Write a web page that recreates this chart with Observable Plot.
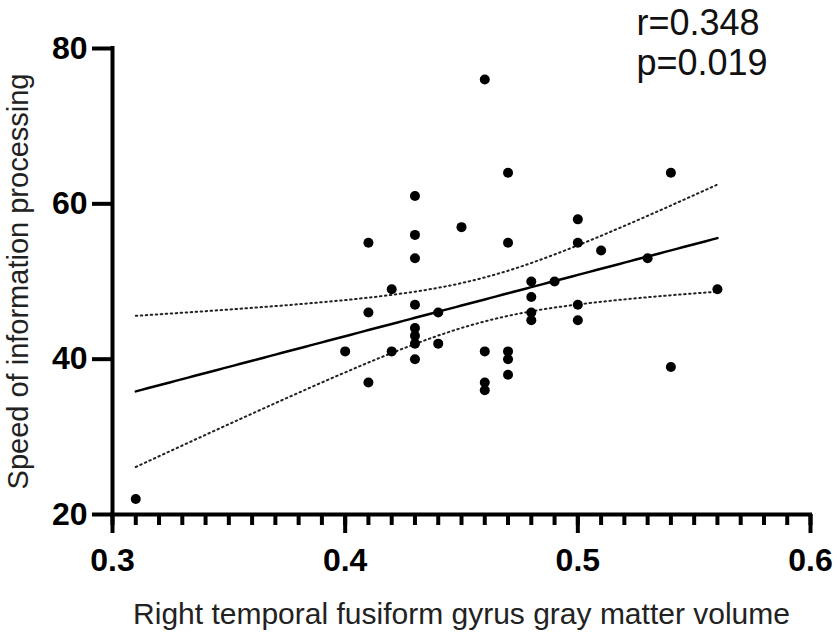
<!DOCTYPE html>
<html>
<head>
<meta charset="utf-8">
<script src="https://cdn.jsdelivr.net/npm/d3@7"></script>
<script src="https://cdn.jsdelivr.net/npm/@observablehq/plot@0.6"></script>
<style>
  html, body { margin: 0; padding: 0; background: #fff; }
  svg { font-family: "Liberation Sans", Arial, sans-serif; overflow: visible; }
</style>
</head>
<body>
<div id="chart"></div>
<script>
// Data
const volume = [0.31, 0.40, 0.41, 0.41, 0.41, 0.42, 0.42, 0.43, 0.43, 0.43, 0.43, 0.43, 0.43, 0.43, 0.43,
  0.44, 0.44, 0.45, 0.46, 0.46, 0.46, 0.46, 0.47, 0.47, 0.47, 0.47, 0.47, 0.48, 0.48, 0.48, 0.48,
  0.49, 0.50, 0.50, 0.50, 0.50, 0.51, 0.53, 0.54, 0.54, 0.56];
const speed = [22, 41, 55, 46, 37, 49, 41, 61, 56, 53, 47, 44, 43, 42, 40,
  46, 42, 57, 76, 41, 37, 36, 64, 55, 41, 40, 38, 50, 48, 46, 45,
  50, 58, 55, 47, 45, 54, 53, 64, 39, 49];
const xTicks = [0.3, 0.4, 0.5, 0.6];
const yTicks = [20, 40, 60, 80];
const xLabel = "Right temporal fusiform gyrus gray matter volume";
const yLabel = "Speed of information processing";
const rText = "r=0.348";
const pText = "p=0.019";

const data = volume.map((x, i) => ({x, y: speed[i]}));

// Linear regression with 95% confidence band of the mean
const n = data.length;
const mx = d3.mean(data, d => d.x), my = d3.mean(data, d => d.y);
const sxx = d3.sum(data, d => (d.x - mx) ** 2);
const sxy = d3.sum(data, d => (d.x - mx) * (d.y - my));
const slope = sxy / sxx, intercept = my - slope * mx;
const sse = d3.sum(data, d => (d.y - (intercept + slope * d.x)) ** 2);
const s = Math.sqrt(sse / (n - 2));
const tcrit = 2.023;
const [x0, x1] = d3.extent(volume);
const fit = d3.range(0, 101).map(i => {
  const x = x0 + (x1 - x0) * i / 100;
  const yh = intercept + slope * x;
  const se = s * Math.sqrt(1 / n + (x - mx) ** 2 / sxx);
  return {x, y: yh, lo: yh - tcrit * se, hi: yh + tcrit * se};
});
const minorTicks = d3.range(0, 31).map(i => +(0.3 + i * 0.01).toFixed(2));

const chart = Plot.plot({
  width: 839,
  height: 637,
  marginLeft: 112,
  marginRight: 29,
  marginTop: 48,
  marginBottom: 123,
  style: {fontFamily: '"Liberation Sans", Arial, sans-serif', background: "#fff", overflow: "visible"},
  x: {domain: [0.3, 0.6]},
  y: {domain: [20, 80]},
  marks: [
    Plot.axisX({ticks: minorTicks, tickSize: 11, strokeWidth: 4, tickFormat: () => "", label: null}),
    Plot.axisX({ticks: xTicks, tickSize: 19, tickPadding: 15, strokeWidth: 4, tickFormat: d3.format(".1f"),
      fontSize: 32, fontWeight: "bold", fill: "#000", label: null}),
    Plot.axisY({ticks: yTicks, tickSize: 20, tickPadding: 5, strokeWidth: 4,
      fontSize: 32, fontWeight: "bold", fill: "#000", label: null}),
    Plot.ruleY([20], {strokeWidth: 4, strokeLinecap: "square"}),
    Plot.ruleX([0.3], {strokeWidth: 4, strokeLinecap: "square"}),
    Plot.line(fit, {x: "x", y: "hi", stroke: "#222", strokeWidth: 2, strokeDasharray: "1.5,3.5"}),
    Plot.line(fit, {x: "x", y: "lo", stroke: "#222", strokeWidth: 2, strokeDasharray: "1.5,3.5"}),
    Plot.line(fit, {x: "x", y: "y", stroke: "#000", strokeWidth: 2.5}),
    Plot.dot(data, {x: "x", y: "y", r: 5, fill: "#000", stroke: null}),
    Plot.text([xLabel], {frameAnchor: "bottom", dy: 109, lineAnchor: "bottom", textAnchor: "middle", fontSize: 30, fill: "#222"}),
    Plot.text([yLabel], {frameAnchor: "left", dx: -85, rotate: -90, lineAnchor: "bottom", textAnchor: "middle", fontSize: 29, fill: "#222"}),
    Plot.text([rText], {frameAnchor: "top-left", dx: 524, dy: -14, textAnchor: "start", lineAnchor: "bottom", fontSize: 36, fill: "#111"}),
    Plot.text([pText], {frameAnchor: "top-left", dx: 524, dy: 26, textAnchor: "start", lineAnchor: "bottom", fontSize: 36, fill: "#111"})
  ]
});
document.getElementById("chart").appendChild(chart);
</script>
</body>
</html>
